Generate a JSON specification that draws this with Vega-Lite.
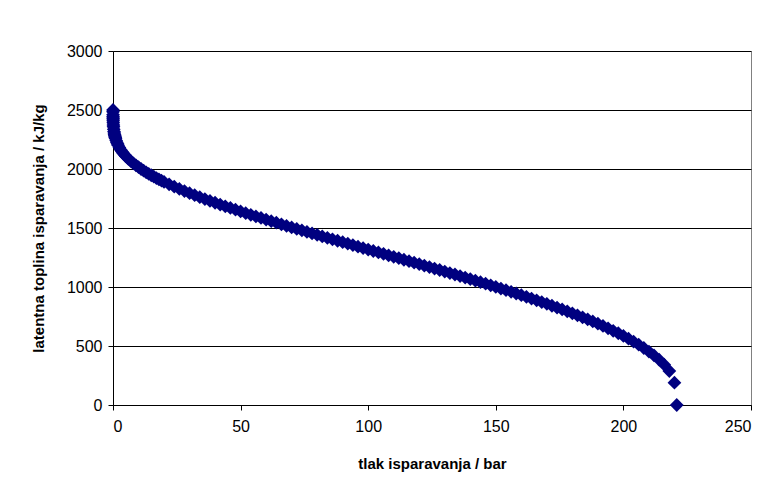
{
  "$schema": "https://vega.github.io/schema/vega-lite/v6.json",
  "autosize": {"type": "none"},
  "padding": {"left": 113, "top": 51, "right": 23, "bottom": 92},
  "width": 638,
  "height": 354,
  "background": "white",
  "config": {
    "font": "Liberation Sans",
    "view": {"stroke": "#808080", "strokeWidth": 1},
    "axis": {
      "labelFont": "Liberation Sans",
      "labelFontSize": 16,
      "labelColor": "#000000",
      "titleFont": "Liberation Sans",
      "titleFontSize": 15,
      "titleFontWeight": "bold",
      "titleColor": "#000000",
      "domainColor": "#000000",
      "tickColor": "#000000",
      "tickSize": 5,
      "gridColor": "#000000",
      "gridOpacity": 1
    }
  },
  "data": {
    "values": [
      {"p": 0.006, "r": 2501}, {"p": 0.01, "r": 2485}, {"p": 0.02, "r": 2460}, {"p": 0.03, "r": 2444},
      {"p": 0.04, "r": 2433}, {"p": 0.05, "r": 2423}, {"p": 0.07, "r": 2409}, {"p": 0.1, "r": 2392},
      {"p": 0.15, "r": 2373}, {"p": 0.2, "r": 2358}, {"p": 0.3, "r": 2336}, {"p": 0.4, "r": 2318},
      {"p": 0.5, "r": 2305}, {"p": 0.6, "r": 2293}, {"p": 0.7, "r": 2283}, {"p": 0.8, "r": 2274},
      {"p": 0.9, "r": 2266}, {"p": 1.0, "r": 2258}, {"p": 1.25, "r": 2241}, {"p": 1.5, "r": 2226},
      {"p": 1.75, "r": 2213}, {"p": 2, "r": 2202}, {"p": 2.5, "r": 2182}, {"p": 3, "r": 2164},
      {"p": 3.5, "r": 2148}, {"p": 4, "r": 2134}, {"p": 4.5, "r": 2121}, {"p": 5, "r": 2108},
      {"p": 6, "r": 2086}, {"p": 7, "r": 2066}, {"p": 8, "r": 2048}, {"p": 9, "r": 2031},
      {"p": 10, "r": 2015}, {"p": 11, "r": 2000}, {"p": 12, "r": 1986}, {"p": 13, "r": 1972},
      {"p": 14, "r": 1959}, {"p": 15, "r": 1947}, {"p": 16, "r": 1935}, {"p": 17, "r": 1923},
      {"p": 18, "r": 1912}, {"p": 19, "r": 1901}, {"p": 20, "r": 1890}, {"p": 22, "r": 1870},
      {"p": 24, "r": 1850}, {"p": 26, "r": 1831}, {"p": 28, "r": 1813}, {"p": 30, "r": 1795},
      {"p": 32, "r": 1778}, {"p": 34, "r": 1761}, {"p": 36, "r": 1745}, {"p": 38, "r": 1729},
      {"p": 40, "r": 1714}, {"p": 42, "r": 1699}, {"p": 44, "r": 1684}, {"p": 46, "r": 1670},
      {"p": 48, "r": 1655}, {"p": 50, "r": 1640}, {"p": 52, "r": 1626}, {"p": 54, "r": 1612},
      {"p": 56, "r": 1598}, {"p": 58, "r": 1585}, {"p": 60, "r": 1571}, {"p": 62, "r": 1558},
      {"p": 64, "r": 1545}, {"p": 66, "r": 1531}, {"p": 68, "r": 1518}, {"p": 70, "r": 1505},
      {"p": 72, "r": 1492}, {"p": 74, "r": 1480}, {"p": 76, "r": 1467}, {"p": 78, "r": 1454},
      {"p": 80, "r": 1442}, {"p": 82, "r": 1429}, {"p": 84, "r": 1417}, {"p": 86, "r": 1404},
      {"p": 88, "r": 1392}, {"p": 90, "r": 1380}, {"p": 92, "r": 1367}, {"p": 94, "r": 1355},
      {"p": 96, "r": 1342}, {"p": 98, "r": 1330}, {"p": 100, "r": 1317}, {"p": 102, "r": 1305},
      {"p": 104, "r": 1293}, {"p": 106, "r": 1281}, {"p": 108, "r": 1268}, {"p": 110, "r": 1256},
      {"p": 112, "r": 1244}, {"p": 114, "r": 1231}, {"p": 116, "r": 1219}, {"p": 118, "r": 1206},
      {"p": 120, "r": 1194}, {"p": 122, "r": 1181}, {"p": 124, "r": 1169}, {"p": 126, "r": 1156},
      {"p": 128, "r": 1144}, {"p": 130, "r": 1131}, {"p": 132, "r": 1118}, {"p": 134, "r": 1106},
      {"p": 136, "r": 1093}, {"p": 138, "r": 1080}, {"p": 140, "r": 1067}, {"p": 142, "r": 1054},
      {"p": 144, "r": 1041}, {"p": 146, "r": 1028}, {"p": 148, "r": 1014}, {"p": 150, "r": 1001},
      {"p": 152, "r": 987}, {"p": 154, "r": 973}, {"p": 156, "r": 959}, {"p": 158, "r": 945},
      {"p": 160, "r": 931}, {"p": 162, "r": 917}, {"p": 164, "r": 902}, {"p": 166, "r": 887},
      {"p": 168, "r": 872}, {"p": 170, "r": 857}, {"p": 172, "r": 841}, {"p": 174, "r": 826},
      {"p": 176, "r": 810}, {"p": 178, "r": 794}, {"p": 180, "r": 777}, {"p": 182, "r": 760},
      {"p": 184, "r": 743}, {"p": 186, "r": 726}, {"p": 188, "r": 708}, {"p": 190, "r": 689},
      {"p": 192, "r": 670}, {"p": 194, "r": 650}, {"p": 196, "r": 629}, {"p": 198, "r": 608},
      {"p": 200, "r": 585}, {"p": 202, "r": 562}, {"p": 204, "r": 537}, {"p": 206, "r": 511},
      {"p": 208, "r": 483}, {"p": 210, "r": 453}, {"p": 212, "r": 420}, {"p": 214, "r": 384},
      {"p": 216, "r": 342}, {"p": 218, "r": 288}, {"p": 220, "r": 189}, {"p": 220.9, "r": 0}
    ]
  },
  "mark": {"type": "point", "shape": "diamond", "filled": true, "size": 190, "color": "#000080", "opacity": 1, "clip": false},
  "encoding": {
    "x": {
      "field": "p", "type": "quantitative",
      "scale": {"domain": [0, 250], "nice": false, "zero": false},
      "axis": {"values": [0, 50, 100, 150, 200, 250], "format": "d", "grid": false, "labelPadding": 8, "title": "tlak isparavanja / bar", "titlePadding": 22}
    },
    "y": {
      "field": "r", "type": "quantitative",
      "scale": {"domain": [0, 3000], "nice": false},
      "axis": {"values": [0, 500, 1000, 1500, 2000, 2500, 3000], "format": "d", "grid": true, "labelPadding": 6, "title": "latentna toplina isparavanja / kJ/kg", "titlePadding": 20}
    }
  }
}
